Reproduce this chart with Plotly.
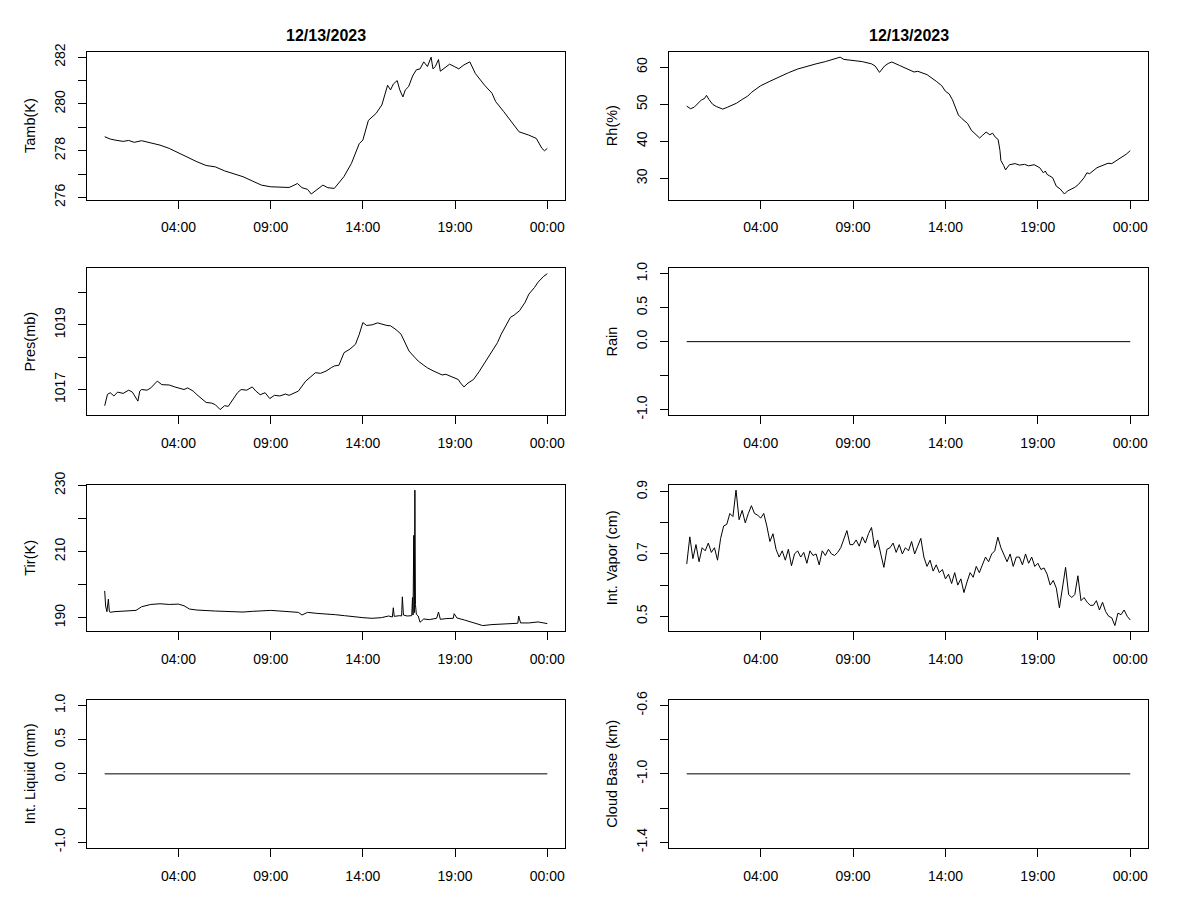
import pandas as pd
import plotly.graph_objects as go

DATE_TITLE = "12/13/2023"
DAY0 = pd.Timestamp("2023-12-13 00:00")
X_TICK_HOURS = [4, 9, 14, 19, 24]
X_TICK_LABELS = ["04:00", "09:00", "14:00", "19:00", "00:00"]

# ---------------- data (hours after 12/13/2023 00:00)
tamb_hours = [0.0, 0.3, 0.6, 1.0, 1.3, 1.6, 2.0, 2.3, 2.6, 3.0, 3.5, 4.0, 4.5, 5.0, 5.5, 6.0,
              6.5, 7.0, 7.5, 8.0, 8.5, 9.0, 9.5, 10.0, 10.2, 10.45, 10.7, 11.0, 11.2, 11.5,
              11.83, 12.1, 12.45, 12.97, 13.38, 13.8, 14.0, 14.3, 14.72, 15.03, 15.34, 15.5,
              15.65, 15.86, 16.0, 16.17, 16.3, 16.48, 16.7, 16.9, 17.1, 17.3, 17.5, 17.7, 17.8,
              17.93, 18.1, 18.2, 18.44, 18.7, 18.96, 19.2, 19.48, 19.8, 20.1, 20.6, 21.0, 21.2,
              21.64, 22.16, 22.47, 22.99, 23.4, 23.71, 23.85, 24.0]
tamb_values = [278.6, 278.5, 278.45, 278.4, 278.44, 278.36, 278.43, 278.38, 278.32, 278.24,
               278.1, 277.9, 277.71, 277.53, 277.37, 277.31, 277.14, 277.0, 276.89, 276.71,
               276.53, 276.46, 276.46, 276.43, 276.5, 276.6, 276.42, 276.35, 276.15, 276.35,
               276.53, 276.42, 276.39, 276.89, 277.46, 278.3, 278.46, 279.3, 279.6, 279.96,
               280.8, 280.6, 280.85, 281.0, 280.6, 280.3, 280.6, 280.74, 281.2, 281.46, 281.5,
               281.8, 281.6, 282.0, 281.5, 281.6, 281.9, 281.4, 281.53, 281.7, 281.6, 281.5,
               281.67, 281.8, 281.3, 280.8, 280.46, 280.1, 279.67, 279.1, 278.81, 278.67,
               278.53, 278.1, 278.0, 278.1]

rh_hours = [0.0, 0.2, 0.4, 0.6, 0.8, 0.95, 1.07, 1.2, 1.4, 1.6, 1.8, 1.95, 2.2, 2.46, 2.7, 3.0,
            3.3, 3.5, 3.8, 4.0, 4.5, 5.0, 5.5, 6.0, 6.5, 7.0, 7.5, 8.0, 8.3, 8.5, 9.0, 9.5,
            10.0, 10.2, 10.43, 10.7, 10.9, 11.1, 11.5, 12.0, 12.3, 12.5, 13.0, 13.5, 13.8, 14.0,
            14.2, 14.38, 14.55, 14.7, 14.9, 15.2, 15.4, 15.7, 15.85, 16.0, 16.2, 16.4, 16.55,
            16.7, 16.85, 16.95, 17.0, 17.15, 17.25, 17.46, 17.77, 18.0, 18.28, 18.5, 18.8, 19.1,
            19.3, 19.4, 19.5, 19.8, 19.9, 20.0, 20.2, 20.44, 20.6, 20.8, 21.0, 21.2, 21.5,
            21.65, 21.8, 22.2, 22.6, 22.8, 23.0, 23.4, 23.8, 24.0]
rh_values = [49.5, 48.8, 49.2, 50.2, 51.2, 51.5, 52.4, 51.3, 50.0, 49.4, 48.9, 48.7, 49.2, 49.8,
             50.3, 51.3, 52.2, 53.2, 54.3, 55.0, 56.2, 57.4, 58.5, 59.5, 60.3, 60.9, 61.5, 62.3,
             62.7, 62.1, 61.9, 61.5, 60.9, 60.3, 58.6, 60.3, 61.0, 61.4, 60.5, 59.4, 58.7, 58.9,
             58.0, 56.2, 55.0, 53.5, 52.8, 51.2, 49.0, 47.1, 46.1, 44.8, 43.0, 41.6, 40.9, 41.6,
             42.5, 41.8, 42.2, 41.1, 40.5, 37.5, 34.8, 33.5, 32.3, 33.7, 34.0, 33.6, 33.8, 33.4,
             33.7, 32.9, 31.5, 32.0, 31.1, 30.2, 28.8, 27.9, 27.2, 25.8, 26.6, 27.0, 27.6, 28.4,
             30.2, 31.5, 31.3, 32.9, 33.7, 34.1, 34.0, 35.2, 36.6, 37.5]

pres_hours = [0.0, 0.15, 0.3, 0.5, 0.7, 1.0, 1.3, 1.5, 1.8, 1.9, 2.0, 2.3, 2.5, 2.85, 3.1, 3.5,
              3.8, 4.0, 4.3, 4.5, 4.8, 5.0, 5.3, 5.5, 5.8, 6.0, 6.26, 6.5, 6.7, 7.0, 7.2, 7.4,
              7.7, 8.0, 8.2, 8.43, 8.7, 8.95, 9.2, 9.5, 9.8, 10.0, 10.2, 10.5, 10.9, 11.2, 11.43,
              11.7, 12.0, 12.3, 12.46, 12.7, 12.98, 13.3, 13.6, 13.8, 14.0, 14.2, 14.5, 14.8,
              15.0, 15.3, 15.5, 15.8, 16.07, 16.3, 16.5, 16.8, 17.0, 17.3, 17.5, 17.8, 18.0,
              18.3, 18.5, 18.8, 19.17, 19.3, 19.48, 19.7, 20.0, 20.3, 20.5, 20.8, 21.0, 21.3,
              21.5, 21.8, 22.0, 22.2, 22.5, 22.8, 23.0, 23.3, 23.5, 23.8, 24.0]
pres_values = [1016.5, 1016.85, 1016.9, 1016.8, 1016.92, 1016.88, 1016.98, 1016.92, 1016.64,
               1016.95, 1017.0, 1016.98, 1017.05, 1017.26, 1017.15, 1017.14, 1017.08, 1017.05,
               1017.0, 1017.05, 1016.95, 1016.84, 1016.7, 1016.6, 1016.58, 1016.53, 1016.38,
               1016.5, 1016.48, 1016.74, 1016.9, 1017.0, 1016.98, 1017.08, 1016.95, 1016.84,
               1016.9, 1016.72, 1016.82, 1016.8, 1016.86, 1016.82, 1016.88, 1016.95, 1017.26,
               1017.4, 1017.52, 1017.5, 1017.57, 1017.68, 1017.73, 1017.75, 1018.14, 1018.25,
               1018.4, 1018.7, 1019.07, 1018.98, 1019.0, 1019.06, 1019.02, 1018.98, 1018.97,
               1018.85, 1018.71, 1018.45, 1018.19, 1018.0, 1017.88, 1017.75, 1017.67, 1017.58,
               1017.52, 1017.45, 1017.47, 1017.4, 1017.31, 1017.2, 1017.08, 1017.2, 1017.31,
               1017.55, 1017.73, 1017.98, 1018.19, 1018.45, 1018.71, 1019.0, 1019.23, 1019.3,
               1019.44, 1019.7, 1019.95, 1020.15, 1020.32, 1020.5, 1020.58]

tir_hours = [0.0, 0.05, 0.12, 0.2, 0.25, 0.3, 0.5, 1.0, 1.5, 1.7, 2.0, 2.5, 3.0, 3.5, 4.0, 4.3,
             4.6, 5.0, 6.0, 7.0, 7.5, 8.0, 9.0, 9.5, 10.0, 10.5, 10.7, 11.0, 11.5, 12.0, 12.5,
             13.0, 13.5, 14.0, 14.5, 15.0, 15.4, 15.6, 15.65, 15.7, 16.0, 16.1, 16.14, 16.2,
             16.4, 16.65, 16.69, 16.72, 16.76, 16.79, 16.82, 16.85, 16.9, 17.0, 17.1, 17.3,
             17.6, 18.0, 18.1, 18.2, 18.5, 18.9, 18.95, 19.1, 19.5, 20.0, 20.5, 21.0, 21.5,
             22.0, 22.4, 22.45, 22.55, 23.0, 23.5, 24.0]
tir_values = [198.1, 193.5, 191.8, 195.6, 192.0, 191.6, 191.8, 192.0, 192.1, 192.2, 193.3,
              194.0, 194.2, 194.0, 194.1, 193.6, 192.6, 192.3, 192.0, 191.9, 191.7, 191.9,
              192.2, 192.0, 191.9, 191.6, 190.8, 191.6, 191.3, 191.2, 190.9, 190.6, 190.2,
              190.0, 189.8, 190.0, 190.5, 190.2, 193.0, 190.4, 190.6, 190.5, 196.3, 190.8,
              190.5, 190.6, 196.1, 190.8, 214.9, 191.5, 228.6, 194.0, 191.0, 190.5, 188.6,
              189.6, 189.4, 189.8, 191.7, 189.5, 189.7, 189.8, 191.2, 189.9, 189.3, 188.5,
              187.6, 187.9, 188.0, 188.3, 188.3, 190.5, 188.4, 188.4, 188.7, 188.2]

# 10-minute samples
vapor_values = [0.668, 0.755, 0.685, 0.73, 0.675, 0.72,
                0.71, 0.735, 0.705, 0.72, 0.68, 0.75,
                0.79, 0.795, 0.83, 0.82, 0.905, 0.81,
                0.84, 0.80, 0.83, 0.855, 0.83, 0.825,
                0.815, 0.83, 0.79, 0.74, 0.765, 0.715,
                0.69, 0.71, 0.68, 0.715, 0.662, 0.70,
                0.71, 0.69, 0.705, 0.67, 0.71, 0.695,
                0.70, 0.665, 0.71, 0.695, 0.715, 0.70,
                0.695, 0.705, 0.72, 0.745, 0.775, 0.73,
                0.73, 0.745, 0.725, 0.755, 0.735, 0.765,
                0.785, 0.72, 0.745, 0.70, 0.657, 0.715,
                0.72, 0.735, 0.705, 0.73, 0.70, 0.72,
                0.71, 0.74, 0.70, 0.725, 0.75, 0.69,
                0.66, 0.68, 0.645, 0.665, 0.64, 0.65,
                0.62, 0.635, 0.605, 0.64, 0.60, 0.62,
                0.576, 0.61, 0.64, 0.625, 0.66, 0.64,
                0.665, 0.69, 0.675, 0.70, 0.71, 0.754,
                0.72, 0.70, 0.675, 0.70, 0.66, 0.69,
                0.69, 0.665, 0.70, 0.67, 0.69, 0.66,
                0.67, 0.65, 0.655, 0.635, 0.60, 0.615,
                0.59, 0.527, 0.60, 0.657, 0.57, 0.56,
                0.57, 0.63, 0.55, 0.56, 0.545, 0.535,
                0.535, 0.55, 0.52, 0.545, 0.515, 0.50,
                0.495, 0.47, 0.51, 0.505, 0.52, 0.50,
                0.488]
vapor_hours = [i / 6 for i in range(len(vapor_values))]

rain_hours = [0.0, 24.0]
rain_values = [0.0, 0.0]
liquid_hours = [0.0, 24.0]
liquid_values = [0.0, 0.0]
cloud_hours = [0.0, 24.0]
cloud_values = [-1.0, -1.0]

# y tick values / labels (R drops labels that would overlap)
tamb_ticks = [276, 277, 278, 279, 280, 281, 282]
tamb_labels = ["276", "", "278", "", "280", "", "282"]
rh_ticks = [30, 40, 50, 60]
rh_labels = ["30", "40", "50", "60"]
pres_ticks = [1017, 1018, 1019, 1020]
pres_labels = ["1017", "", "1019", ""]
rain_ticks = [-1.0, -0.5, 0.0, 0.5, 1.0]
rain_labels = ["-1.0", "", "0.0", "0.5", "1.0"]
tir_ticks = [190, 200, 210, 220, 230]
tir_labels = ["190", "", "210", "", "230"]
vapor_ticks = [0.5, 0.6, 0.7, 0.8, 0.9]
vapor_labels = ["0.5", "", "0.7", "", "0.9"]
liquid_ticks = [-1.0, -0.5, 0.0, 0.5, 1.0]
liquid_labels = ["-1.0", "", "0.0", "0.5", "1.0"]
cloud_ticks = [-1.4, -1.2, -1.0, -0.8, -0.6]
cloud_labels = ["-1.4", "", "-1.0", "", "-0.6"]

panels = [
    ("Tamb(K)", tamb_hours, tamb_values, tamb_ticks, tamb_labels, 0, 0),
    ("Rh(%)", rh_hours, rh_values, rh_ticks, rh_labels, 0, 1),
    ("Pres(mb)", pres_hours, pres_values, pres_ticks, pres_labels, 1, 0),
    ("Rain", rain_hours, rain_values, rain_ticks, rain_labels, 1, 1),
    ("Tir(K)", tir_hours, tir_values, tir_ticks, tir_labels, 2, 0),
    ("Int. Vapor (cm)", vapor_hours, vapor_values, vapor_ticks, vapor_labels, 2, 1),
    ("Int. Liquid (mm)", liquid_hours, liquid_values, liquid_ticks, liquid_labels, 3, 0),
    ("Cloud Base (km)", cloud_hours, cloud_values, cloud_ticks, cloud_labels, 3, 1),
]


def to_time(hours):
    return DAY0 + pd.to_timedelta(hours, unit="h")


def r_range(vals):
    lo, hi = min(vals), max(vals)
    if lo == hi:
        if lo == 0:
            lo, hi = -1.0, 1.0
        else:
            d = 0.4 * abs(lo)
            lo, hi = lo - d, hi + d
    pad = 0.04 * (hi - lo)
    return [lo - pad, hi + pad]


# page body has an 8px margin: figure is shrunk and positions shifted by it
OFF = 8
W, H = 1200 - OFF, 900 - OFF
COL_X = [(87, 565), (669, 1148)]
ROW_Y = [(51.7, 199.5), (268.3, 415.0), (484.7, 631.0), (700.0, 847.7)]
FONT = "Liberation Sans, Arial, sans-serif"
FS = 14
TITLE_FS = 14.5

x_min = min(to_time([0.0]))
x_max = max(to_time([24.0]))
span = x_max - x_min
x_range = [x_min - 0.04 * span, x_max + 0.04 * span]
x_tickvals = list(to_time(X_TICK_HOURS))

fig = go.Figure()
layout = dict(
    template="none",
    width=W, height=H, margin=dict(l=0, r=0, t=0, b=0, pad=0, autoexpand=False),
    paper_bgcolor="white", plot_bgcolor="white", showlegend=False,
    font=dict(family=FONT, size=FS, color="black"),
)

for i, (ytitle, hrs, vals, yt, yl, row, col) in enumerate(panels, start=1):
    assert len(hrs) == len(vals)
    xa = "x" if i == 1 else f"x{i}"
    ya = "y" if i == 1 else f"y{i}"
    fig.add_trace(go.Scatter(
        x=to_time(hrs), y=vals, mode="lines",
        line=dict(color="black", width=1),
        xaxis=xa, yaxis=ya, hoverinfo="skip",
    ))
    x0, x1 = COL_X[col]
    y0, y1 = ROW_Y[row]
    common = dict(
        showline=True, mirror=True, linecolor="black", linewidth=1,
        ticks="outside", ticklen=8, tickwidth=1, tickcolor="black",
        showgrid=False, zeroline=False, fixedrange=True, automargin=False,
        tickfont=dict(family=FONT, size=FS, color="black"),
    )
    layout[f"xaxis{i}"] = dict(
        common, domain=[(x0 - OFF) / W, (x1 - OFF) / W], anchor=ya, type="date",
        range=x_range, tickmode="array", tickvals=x_tickvals,
        ticktext=X_TICK_LABELS, ticklabelstandoff=7,
    )
    layout[f"yaxis{i}"] = dict(
        common, domain=[1 - (y1 - OFF) / H, 1 - (y0 - OFF) / H], anchor=xa,
        range=r_range(vals), tickmode="array", tickvals=yt, ticktext=yl,
        tickangle=-90, ticklabelstandoff=7,
        title=dict(text=ytitle, font=dict(family=FONT, size=TITLE_FS, color="black"),
                   standoff=13),
    )

annotations = []
for col in range(2):
    x0, x1 = COL_X[col]
    annotations.append(dict(
        text=f"<b>{DATE_TITLE}</b>", xref="paper", yref="paper",
        x=((x0 + x1) / 2 - OFF) / W, y=1 - (36 - OFF) / H, showarrow=False,
        xanchor="center", yanchor="middle",
        font=dict(family=FONT, size=16, color="black"),
    ))
layout["annotations"] = annotations

fig.update_layout(**layout)
fig.write_html("out.html")
